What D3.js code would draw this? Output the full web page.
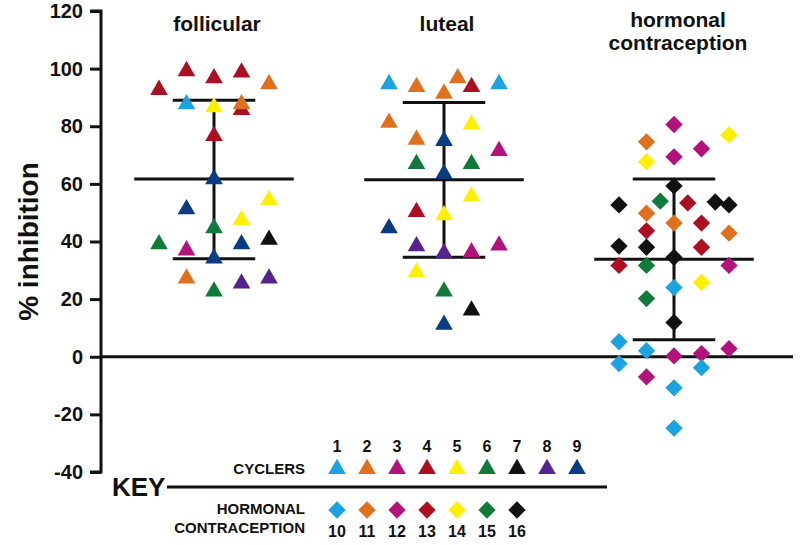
<!DOCTYPE html>
<html><head><meta charset="utf-8">
<script src="https://cdn.jsdelivr.net/npm/d3@7"></script>
<style>
body{margin:0;background:#fff;}
text{font-family:"Liberation Sans",Arial,sans-serif;font-weight:bold;fill:#111;}
</style></head>
<body><svg id="c" width="800" height="545"></svg>
<script>
// ---- data ----
const groups = ["follicular", "luteal", "hormonal contraception"];
const yTicks = [-40, -20, 0, 20, 40, 60, 80, 100, 120];
const subjectColors = {
  1:"#1aa3e0", 2:"#e0701e", 3:"#b3127a", 4:"#ad0f22", 5:"#fff000", 6:"#117a3a", 7:"#111111", 8:"#55238e", 9:"#0b3b82",
  10:"#1aa3e0", 11:"#e0701e", 12:"#b3127a", 13:"#ad0f22", 14:"#fff000", 15:"#117a3a", 16:"#111111"
};
const cyclerIds = [1,2,3,4,5,6,7,8,9];
const hcIds = [10,11,12,13,14,15,16];

// [value, subject, slot]
const follicular = [
  [93,4,-2],[99.5,4,-1],[97,4,0],[99,4,1],[95,2,2],[88,1,-1],[87,5,0],[86,4,1],[88,2,1],
  [77,4,0],[62,9,0],[51.6,9,-1],[54.8,5,2],[47.8,5,1],[45,6,0],[39.4,6,-2],[37.3,3,-1],
  [39.4,9,1],[41,7,2],[34.5,9,0],[27.5,2,-1],[23,6,0],[25.8,8,1],[27.5,8,2]
];
const luteal = [
  [95,1,-2],[94,2,-1],[97,2,0.5],[94,4,1],[95,1,2],[91.7,2,0],[81.6,2,-2],[81,5,1],
  [75.7,2,-1],[75.3,9,0],[71.8,3,2],[67.3,6,-1],[67.3,6,1],[63.8,9,0],[56,5,1],
  [50.6,4,-1],[49.5,5,0],[45,9,-2],[38.7,8,-1],[36.3,8,0],[36.6,3,1],[39,3,2],
  [29.6,5,-1],[23,6,0],[16.4,7,1],[11.5,9,0]
];
const hormonal = [
  [80.6,12,0],[74.6,11,-1],[77,14,2],[72.2,12,1],[69.4,12,0],[67.7,14,-1],[59.3,16,0],
  [52.7,16,-2],[54,15,-0.5],[53.4,13,0.5],[53.7,16,1.5],[52.7,16,2],[49.8,11,-1],
  [46.4,11,0],[46.4,13,1],[43.7,13,-1],[42.9,11,2],[38.4,16,-2],[38,16,-1],[38,13,1],
  [34.5,16,0],[31.7,13,-2],[31.7,15,-1],[31.7,12,2],[24,10,0],[25.8,14,1],[20.2,15,-1],
  [11.9,16,0],[5.2,10,-2],[2.1,10,-1],[0.3,12,0],[1.1,12,1],[2.8,12,2],[-2.4,10,-2],
  [-3.8,10,1],[-7,12,-1],[-10.8,10,0],[-24.8,10,0]
];
const groupData = [follicular, luteal, hormonal];
// mean, mean+SD, mean-SD
const means = [61.7, 61.4, 33.8];
const sdTop = [89, 88.2, 61.7];
const sdBottom = [34, 34.5, 5.9];

// ---- layout ----
const svg = d3.select("#c");
const y = d3.scaleLinear().domain([-40,120]).range([472,11]);
const gx = d3.scalePoint().domain(groups).range([214,674]);
const slot = d3.scaleLinear().domain([-2,2]).range([-55,55]);
const axisX = 101;

// y axis
const yAxis = d3.axisLeft(y).tickValues(yTicks).tickSize(11).tickPadding(7).tickFormat(d => String(d));
const ag = svg.append("g").attr("transform",`translate(${axisX},0)`).call(yAxis);
ag.select(".domain").attr("stroke","#111").attr("stroke-width",3).attr("d",`M-11,${y(120)}H0V${y(-40)}H-11`);
ag.selectAll(".tick line").attr("stroke","#111").attr("stroke-width",3);
ag.selectAll(".tick text").style("font-size","20px").style("font-family","'Liberation Sans',Arial,sans-serif").style("font-weight","bold").attr("fill","#111");

// zero line
svg.append("line").attr("x1",axisX).attr("x2",793).attr("y1",y(0)).attr("y2",y(0))
  .attr("stroke","#111").attr("stroke-width",3);

// y label
svg.append("text").attr("transform",`translate(38,${y(40)}) rotate(-90)`).attr("text-anchor","middle")
  .style("font-size","28px").text("% inhibition");

// group titles
groups.forEach((g,i)=>{
  const parts = g === "hormonal contraception" ? ["hormonal","contraception"] : [g];
  const t = svg.append("text").attr("text-anchor","middle").style("font-size","21px");
  if (parts.length === 1) {
    t.attr("x",gx(g)+3).attr("y",31).text(parts[0]);
  } else {
    t.append("tspan").attr("x",gx(g)+4).attr("y",27).text(parts[0]);
    t.append("tspan").attr("x",gx(g)+4).attr("y",50).text(parts[1]);
  }
});

// mean / SD lines
groups.forEach((g,i)=>{
  const cx = gx(g);
  const ln = (x1,x2,y1,y2)=>svg.append("line").attr("x1",x1).attr("x2",x2).attr("y1",y1).attr("y2",y2)
    .attr("stroke","#111").attr("stroke-width",3);
  ln(cx+slot(-2.9), cx+slot(2.9), y(means[i]), y(means[i]));
  ln(cx+slot(-1.5), cx+slot(1.5), y(sdTop[i]), y(sdTop[i]));
  ln(cx+slot(-1.5), cx+slot(1.5), y(sdBottom[i]), y(sdBottom[i]));
  ln(cx, cx, y(sdTop[i]), y(sdBottom[i]));
});

// symbols
const tri = d3.symbol().type(d3.symbolTriangle).size(135);
const dia = d3.symbol().type(d3.symbolSquare).size(150);
function drawMark(sel, id, px, py){
  if (id <= 9) {
    sel.append("path").attr("d",tri()).attr("transform",`translate(${px},${py+1})`).attr("fill",subjectColors[id]);
  } else {
    sel.append("path").attr("d",dia()).attr("transform",`translate(${px},${py}) rotate(45)`).attr("fill",subjectColors[id]);
  }
}
const pts = svg.append("g");
groupData.forEach((arr,i)=>{
  const cx = gx(groups[i]);
  arr.forEach(([v,id,s])=>drawMark(pts,id,cx+slot(s),y(v)));
});

// key
const key = svg.append("g");
key.append("text").attr("x",112).attr("y",496).style("font-size","26px").text("KEY");
key.append("line").attr("x1",167).attr("x2",607).attr("y1",487).attr("y2",487).attr("stroke","#111").attr("stroke-width",3);
key.append("text").attr("x",305).attr("y",474).attr("text-anchor","end").style("font-size","15px").text("CYCLERS");
key.append("text").attr("x",305).attr("y",514).attr("text-anchor","end").style("font-size","15px").text("HORMONAL");
key.append("text").attr("x",305).attr("y",533).attr("text-anchor","end").style("font-size","15px").text("CONTRACEPTION");
const kx = d3.scaleLinear().domain([0,1]).range([337,367]);
cyclerIds.forEach((id,k)=>{
  drawMark(key,id,kx(k),468);
  key.append("text").attr("x",kx(k)).attr("y",452).attr("text-anchor","middle").style("font-size","16px").text(id);
});
hcIds.forEach((id,k)=>{
  drawMark(key,id,kx(k),510);
  key.append("text").attr("x",kx(k)).attr("y",537).attr("text-anchor","middle").style("font-size","16px").text(id);
});
</script></body></html>
